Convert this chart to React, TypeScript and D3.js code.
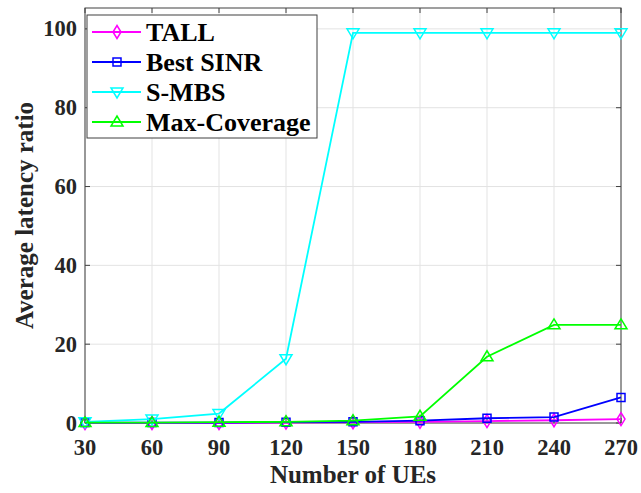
import React from "react";
import * as d3 from "d3";

const xValues = [30, 60, 90, 120, 150, 180, 210, 240, 270];
const tallValues = [0.0, 0.0, 0.0, 0.1, 0.2, 0.3, 0.5, 0.7, 1.0];
const bestSinrValues = [0.1, 0.1, 0.1, 0.2, 0.3, 0.6, 1.2, 1.5, 6.5];
const smbsValues = [0.3, 1.0, 2.4, 16.3, 99, 99, 99, 99, 99];
const maxCoverageValues = [0.1, 0.1, 0.2, 0.3, 0.6, 1.7, 16.8, 24.9, 24.9];
const yTicks = [0, 20, 40, 60, 80, 100];
const seriesNames = ["TALL", "Best SINR", "S-MBS", "Max-Coverage"];
const seriesColors = ["#ff00ff", "#0000ff", "#00ffff", "#00ff00"];
const seriesMarkers = ["diamond", "square", "triDown", "triUp"];

const W = 641, H = 493;
const left = 85, right = 621, top = 8, bottom = 423;
const font = "'Liberation Serif', 'Times New Roman', serif";

function marker(kind: string, cx: number, cy: number, color: string, key?: any) {
  const r = 5;
  let d = "";
  if (kind === "diamond") d = `M${cx},${cy - r * 1.3}L${cx + r * 0.8},${cy}L${cx},${cy + r * 1.3}L${cx - r * 0.8},${cy}Z`;
  else if (kind === "square") d = `M${cx - 4},${cy - 4}h8v8h-8Z`;
  else if (kind === "triDown") d = `M${cx - 6},${cy - 4}L${cx + 6},${cy - 4}L${cx},${cy + 6}Z`;
  else d = `M${cx - 6},${cy + 4}L${cx + 6},${cy + 4}L${cx},${cy - 6}Z`;
  return <path key={key} d={d} fill="none" stroke={color} strokeWidth={1.5} />;
}

export default function App() {
  const x = d3.scaleLinear().domain([30, 270]).range([left, right]);
  const y = d3.scaleLinear().domain([0, 105.3]).range([bottom, top]);
  const allSeries = [tallValues, bestSinrValues, smbsValues, maxCoverageValues];
  const line = d3.line<number>().x((_, i) => x(xValues[i])).y((v) => y(v));

  const legendX = 87, legendY = 15, legendW = 230, legendH = 123;

  return (
    <svg width={W} height={H} style={{ position: "absolute", left: 0, top: 0, background: "#fff" }}>
      <rect x={0} y={0} width={W} height={H} fill="#fff" />
      {/* grid */}
      {xValues.map((v) => (
        <line key={"gx" + v} x1={x(v)} x2={x(v)} y1={top} y2={bottom} stroke="#e3e3e3" strokeWidth={1} />
      ))}
      {yTicks.map((v) => (
        <line key={"gy" + v} x1={left} x2={right} y1={y(v)} y2={y(v)} stroke="#e3e3e3" strokeWidth={1} />
      ))}
      {/* frame */}
      <rect x={left} y={top} width={right - left} height={bottom - top} fill="none" stroke="#404040" strokeWidth={1} />
      {/* ticks */}
      {xValues.map((v) => (
        <g key={"tx" + v}>
          <line x1={x(v)} x2={x(v)} y1={bottom} y2={bottom - 5} stroke="#404040" />
          <line x1={x(v)} x2={x(v)} y1={top} y2={top + 5} stroke="#404040" />
          <text x={x(v)} y={455} textAnchor="middle" fontFamily={font} fontWeight="bold" fontSize={22.5} fill="#262626">{v}</text>
        </g>
      ))}
      {yTicks.map((v) => (
        <g key={"ty" + v}>
          <line x1={left} x2={left + 5} y1={y(v)} y2={y(v)} stroke="#404040" />
          <line x1={right} x2={right - 5} y1={y(v)} y2={y(v)} stroke="#404040" />
          <text x={77} y={y(v) + 7.5} textAnchor="end" fontFamily={font} fontWeight="bold" fontSize={22.5} fill="#262626">{v}</text>
        </g>
      ))}
      {/* axis labels */}
      <text x={(left + right) / 2} y={483} textAnchor="middle" fontFamily={font} fontWeight="bold" fontSize={25} fill="#262626">Number of UEs</text>
      <text transform={`translate(33,${(top + bottom) / 2}) rotate(-90)`} textAnchor="middle" fontFamily={font} fontWeight="bold" fontSize={25} fill="#262626">Average latency ratio</text>
      {/* series */}
      {allSeries.map((vals, si) => (
        <g key={"s" + si}>
          <path d={line(vals) || ""} fill="none" stroke={seriesColors[si]} strokeWidth={1.8} />
          {vals.map((v, i) => marker(seriesMarkers[si], x(xValues[i]), y(v), seriesColors[si], i))}
        </g>
      ))}
      {/* legend */}
      <rect x={legendX} y={legendY} width={legendW} height={legendH} fill="#fff" stroke="#404040" strokeWidth={1} />
      {seriesNames.map((name, i) => {
        const cy = 32 + i * 30;
        return (
          <g key={"l" + i}>
            <line x1={92} x2={141} y1={cy} y2={cy} stroke={seriesColors[i]} strokeWidth={1.8} />
            {marker(seriesMarkers[i], 117, cy, seriesColors[i])}
            <text x={146} y={cy + 9} fontFamily={font} fontWeight="bold" fontSize={26} fill="#000">{name}</text>
          </g>
        );
      })}
    </svg>
  );
}
